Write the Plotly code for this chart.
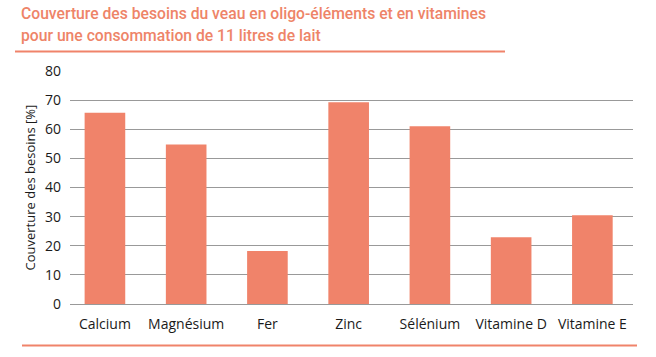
import plotly.graph_objects as go

categories = ["Calcium", "Magnésium", "Fer", "Zinc", "Sélénium", "Vitamine D", "Vitamine E"]
values = [65.7, 54.8, 18.2, 69.3, 61.0, 22.9, 30.5]
y_ticks = [0, 10, 20, 30, 40, 50, 60, 70, 80]
title_line1 = "Couverture des besoins du veau en oligo-éléments et en vitamines"
title_line2 = "pour une consommation de 11 litres de lait"
y_title = "Couverture des besoins [%]"

W, H = 656, 357
ml, mr, mt, mb = 70, 23, 71, 53
pw, ph = W - ml - mr, H - mt - mb

def px_x(x):
    return (x - ml) / pw

def px_y(y):
    return (H - mb - y) / ph

ORANGE = "#F0836A"
TITLE_COLOR = "#EE8468"
TITLE_FONT = dict(family="Roboto", size=15.7, color=TITLE_COLOR, weight=500)

fig = go.Figure(go.Bar(x=categories, y=values, marker=dict(color=ORANGE, line=dict(width=0))))

fig.update_layout(
    width=W, height=H,
    margin=dict(l=ml, r=mr, t=mt, b=mb, autoexpand=False),
    paper_bgcolor="white", plot_bgcolor="white",
    bargap=0.5,
    showlegend=False,
    font=dict(family="Open Sans", color="#222222", size=14),
    xaxis=dict(range=[-0.43, 6.5], showgrid=False, showline=False, ticks="", automargin=False,
               ticklabelstandoff=10, tickfont=dict(size=14, color="#1a1a1a")),
    yaxis=dict(range=[0, 80], tickvals=y_ticks, showgrid=True, gridcolor="#999999", gridwidth=1,
               zeroline=True, zerolinecolor="#999999", zerolinewidth=1, automargin=False,
               ticks="", ticklabelstandoff=8, tickfont=dict(size=14, color="#1a1a1a")),
    annotations=[
        dict(text=title_line1, xref="paper", yref="paper", x=px_x(19), y=px_y(13), xanchor="left", yanchor="middle",
             showarrow=False, font=TITLE_FONT),
        dict(text=title_line2, xref="paper", yref="paper", x=px_x(19), y=px_y(35), xanchor="left", yanchor="middle",
             showarrow=False, font=TITLE_FONT),
        dict(text=y_title, xref="paper", yref="paper", x=px_x(29), y=0.5, xanchor="center", yanchor="middle",
             textangle=-90, showarrow=False, font=dict(family="Open Sans", size=13, color="#1a1a1a")),
    ],
    shapes=[
        dict(type="line", xref="paper", yref="paper", x0=px_x(15), x1=px_x(505), y0=px_y(51.5), y1=px_y(51.5),
             line=dict(color=ORANGE, width=2)),
        dict(type="line", xref="paper", yref="paper", x0=px_x(22), x1=px_x(637), y0=px_y(345.5), y1=px_y(345.5),
             line=dict(color=ORANGE, width=2)),
    ],
)

fig.write_html("out.html", config={"displayModeBar": False},
               post_script="document.body.style.margin='0';")
